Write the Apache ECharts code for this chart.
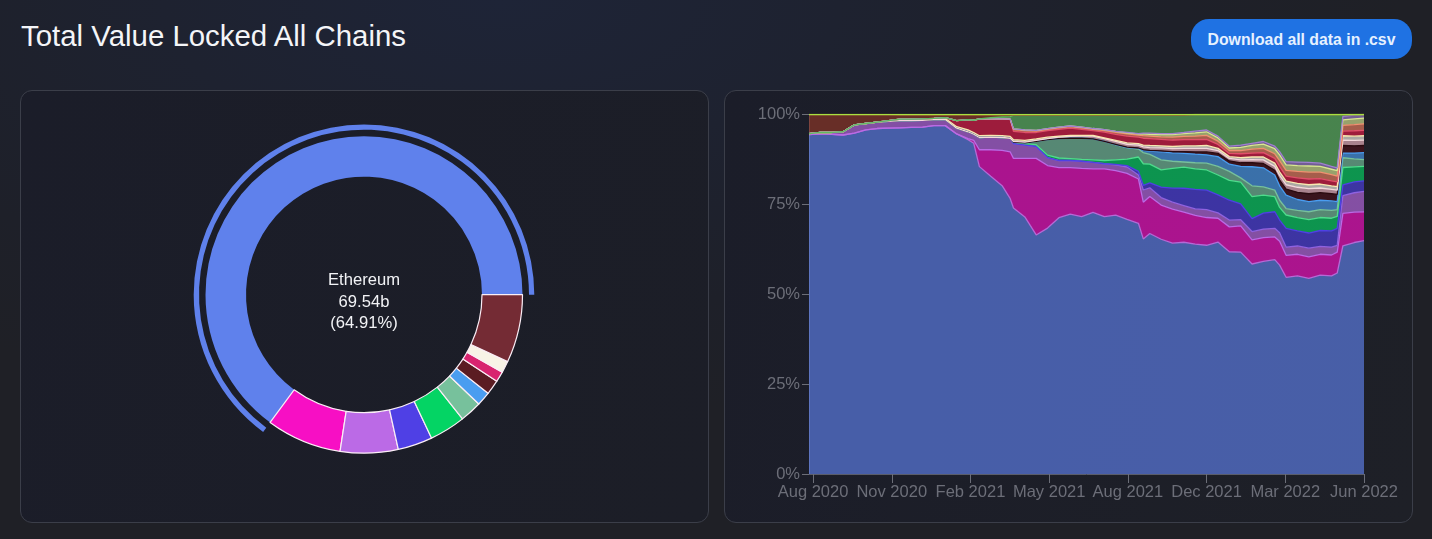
<!DOCTYPE html>
<html>
<head>
<meta charset="utf-8">
<title>Total Value Locked All Chains</title>
<script src="https://cdn.jsdelivr.net/npm/echarts@6/dist/echarts.min.js"></script>
<style>
  html, body { margin: 0; padding: 0; width: 1432px; height: 539px; overflow: hidden; }
  body {
    position: relative;
    font-family: "Liberation Sans", sans-serif;
    background: radial-gradient(ellipse 900px 420px at 35% 0%, #1e2437 0%, #1e2029 75%, #1f2026 100%);
  }
  h1 {
    position: absolute; left: 21px; top: 18px; margin: 0;
    font-size: 29.4px; line-height: 36px; font-weight: 400; color: #f4f5f8;
  }
  .download {
    position: absolute; left: 1191px; top: 19px; width: 221px; height: 40px; padding: 1px 0 0;
    border: 0; border-radius: 18px; background: #1f72e3; color: #e6f1ff;
    font: bold 15.8px "Liberation Sans", sans-serif;
  }
  .panel {
    position: absolute; top: 90px; width: 687px; height: 431px;
    border: 1px solid #3b3e49; border-radius: 12px;
    background: linear-gradient(110deg, #1b1d29 0%, #1c1e27 100%);
  }
  .panel.right { background: linear-gradient(100deg, #1b1d29 0%, #1e2027 100%); }
  #chart { position: absolute; left: 0; top: 0; width: 1432px; height: 539px; }
</style>
</head>
<body>
<h1>Total Value Locked All Chains</h1>
<button class="download">Download all data in .csv</button>
<div class="panel" style="left:20px"></div>
<div class="panel right" style="left:724px"></div>
<div id="chart"></div>
<script>
// donut, latest TVL in billions
const pieNames = ['Ethereum', 'Magenta', 'Purple', 'Indigo', 'Green', 'Mint', 'Blue', 'Dark', 'Pink', 'Cream', 'Maroon'];
const pieValues = [69.54, 8.22, 6.31, 3.78, 3.93, 2.38, 1.52, 1.61, 1.14, 1.27, 7.43];
const pieColors = ['#5f81ec', '#f70fc4', '#bb6ae6', '#4f40e5', '#04d464', '#77c19c', '#4a9df0', '#5b1c22', '#d8246f', '#f8f3e6', '#742b34'];

// dominance over time
const dates = [
  '2020-07-30','2020-08-13','2020-08-27','2020-09-10','2020-09-24','2020-10-08','2020-10-22','2020-11-05','2020-11-19','2020-12-03',
  '2020-12-17','2020-12-31','2021-01-14','2021-01-28','2021-02-11','2021-02-18','2021-02-25','2021-03-11','2021-03-25','2021-04-04',
  '2021-04-08','2021-04-22','2021-05-06','2021-05-20','2021-06-03','2021-06-17','2021-07-01','2021-07-15','2021-07-29','2021-08-12',
  '2021-08-26','2021-09-09','2021-09-15','2021-09-23','2021-10-07','2021-10-21','2021-11-04','2021-11-18','2021-12-02','2021-12-16',
  '2021-12-30','2022-01-13','2022-01-27','2022-02-10','2022-02-24','2022-03-02','2022-03-10','2022-03-24','2022-04-07','2022-04-21',
  '2022-05-05','2022-05-12','2022-05-19','2022-06-02','2022-06-14'
];
const ethereum = [94.4,94.6,94.5,94.3,94.8,95.7,96.1,96.2,96.3,96.4, 96.5,96.9,96.9,94.6,93.0,92.0,85.5,82.8,80.2,76.5, 74.0,71.5,66.5,68.4,71.3,72.3,71.6,72.8,71.6,72.0, 70.8,69.6,65.4,66.9,65.3,64.2,64.4,63.8,63.5,64.4, 61.7,61.6,58.3,59.0,59.5,58.0,54.6,55.0,54.3,55.2, 55.0,55.8,63.3,64.2,64.7];
const magenta = [0,0,0,0,0,0,0,0,0,0, 0,0,0,0,.3,.8,4.7,7.4,9.8,13, 13.8,16.3,21.3,17.4,13.9,12.9,13.4,12.1,13.3,12.4, 12.8,12.3,10.2,10.3,9.5,9.5,8.4,8,7.7,6.6, 6.9,7.3,6.7,6.6,6.3,6.6,6.1,6,6,5.8, 5.8,5.8,9,8.4,8];
const purple = [.3,.4,.5,.9,2.3,1.8,1.8,1.9,2,1.9, 1.9,1.7,1.7,1.6,1.9,1.7,3.4,3.5,3.6,3.8, 4.1,3.7,3.3,2.2,2,2,2,1.8,1.4,1.6, 1.8,1.1,3.4,2.4,2.1,1.9,1.8,1.8,2.2,1.5, 1.9,1.7,2.3,2.4,2.4,2.4,2.3,2.3,2.4,2.2, 2.2,1.9,4.9,5.4,5.7];
const indigo = [0,0,0,0,0,0,0,0,0,0, 0,0,0,0,0,0,0,0,0,0, 0,0,0,0,0,0,0,0,0,.1, .4,1,1.3,1.4,2.9,3.9,4.8,5.4,5.4,5, 5.5,4.4,3.6,4.4,4.6,3.5,5.2,4.2,4.2,4.4, 4.5,4.7,3,3,2.9];
const green = [0,0,0,0,0,0,0,0,0,0, 0,0,0,0,0,0,0,0,0,0, .4,.4,.5,.7,.7,.5,.5,.7,.9,1.3, 1.8,4,6,5.2,4.8,5.5,5.9,5.7,5.6,5.5, 5.5,6,6.1,5,4.2,3.5,3.7,3.7,3.7,3.6, 3.5,3.3,4.8,4.2,4];
const sage = [0,0,0,0,0,0,0,0,0,0, 0,0,0,0,0,0,0,0,0,0, 0,.2,.9,4.3,5.4,5.7,5.9,5.8,5.3,4.2, 3.2,2.2,3.1,2.7,2.8,2,1.4,1.7,1.9,2.4, 2.5,1.2,3,2.3,1.8,2,1.8,2,2.2,2.2, 2.2,1.9,2.7,2.2,1.9];
const steel = [0,0,0,0,0,0,0,0,0,0, 0,0,0,0,0,0,0,0,0,0, 0,0,0,0,0,0,0,0,0,0, 0,.2,.6,.9,2.2,2.3,2.4,2.4,2.3,2.7, 2,3.2,5.3,5.3,4.2,4,3.7,3,2.8,2.6, 2.6,2.2,1.3,1.6,1.9];
const dark = [0,0,0,0,0,0,0,0,0,0, 0,0,0,0,0,0,0,0,0,0, 0,0,0,0,0,0,0,0,0,.1, .1,.1,.2,.2,.3,.4,.5,.6,.8,.9, .9,1,1.1,1.2,1.3,1.6,1.7,2,2.2,2.1, 2,2,2.1,2,2];
const blush = [0,0,0,0,0,0,0,0,0,0, 0,0,0,0,0,0,0,0,0,0, .2,.2,.3,.3,.4,.5,.6,.8,.8,.8, .8,.8,.8,.8,.8,.8,.9,1,1,.8, .7,.8,.9,1,1.1,1.3,1.2,1.4,1.4,1.3, 1.2,1.2,1.5,1.5,1.5];
const cream = [0,0,0,0,0,0,0,.2,.4,.4, .4,.3,.3,.4,.5,.5,.5,.5,.5,.5, .5,.5,.4,.4,.3,.3,.2,.2,.2,.3, .4,.4,.5,.6,.6,.6,.7,.7,.8,.6, .5,.6,.7,.8,.9,1,1,1.1,1.1,1.1, 1,1,1.2,1.2,1.2];
const red = [0,0,0,0,0,0,0,0,0,0, 0,0,.2,1.7,2.9,3.4,4.7,4.6,4.7,4.8, 2.3,2.2,1.8,1.8,1.9,2,1.7,1.3,1.6,1.7, 1.9,1.8,1.9,1.9,1.8,1.8,1.7,1.7,1.7,1.1, .9,1.1,1.1,1.2,1.3,1.5,1.4,1.5,1.6,1.5, 1.4,1.3,1.3,1.5,1.5];
const salmon = [0,0,0,0,0,0,0,0,0,0, 0,0,0,0,0,0,0,0,0,0, .5,.5,.4,.4,.4,.4,.4,.4,.4,.5, .6,.6,.7,.7,.7,.8,.9,1,1.1,.9, .8,.9,1.1,1.2,1.3,1.6,1.6,1.8,1.9,1.8, 1.7,1.6,1.6,1.7,1.8];
const yellow = [0,0,0,0,0,0,0,0,0,0, 0,0,0,0,0,0,0,0,0,0, .2,.2,.2,.2,.2,.2,.2,.2,.3,.3, .3,.3,.5,.5,.6,.7,.8,.9,1,.9, .7,.9,1,1.2,1.4,1.6,1.5,1.6,1.7,1.6, 1.5,1.5,1.5,1.6,1.6];
const lilac = [0,0,0,0,0,0,0,0,0,0, 0,0,0,0,0,0,0,0,0,0, 0,0,0,0,0,0,0,0,0,0, .1,.1,.2,.3,.3,.3,.3,.5,.5,.5, .5,.6,.6,.7,.7,.9,.9,1,1,.9, .8,.8,1,1,1];
const bigGreen = [0,0,0,0,0,0,0,0,0,0, 0,0,0,0,0,0,0,.3,.5,.7, 3.8,4.1,4.2,3.7,3.3,3,3.3,3.7,4,4.5, 4.8,5.1,5,5,5.1,5.1,4.8,4.6,4.3,6, 8.8,8.5,8,7.5,8.8,10.3,13.1,13.2,13.3,13.5, 14.4,14.8,.5,.2,0];
const brown = [5.3,5,5,4.8,2.9,2.5,2.1,1.7,1.1,1.1, 1,.9,.7,1.5,1.2,1.4,1,.7,.5,.4, 0,0,0,0,0,0,0,0,0,0, 0,0,0,0,0,0,0,0,0,0, 0,0,0,0,0,0,0,0,0,0, 0,0,0,0,0];
const lime = [0,0,0,0,0,0,0,0,.2,.2, .2,.2,.2,.2,.2,.2,.2,.2,.2,.2, .2,.2,.2,.2,.2,.2,.2,.2,.2,.2, .2,.2,.2,.2,.2,.2,.2,0,0,0, 0,0,0,0,0,0,0,0,0,0, 0,0,0,0,0];

const tickDates = ['2020-08-04', '2020-11-09', '2021-02-14', '2021-05-22', '2021-08-27', '2021-12-02', '2022-03-09', '2022-06-14'];
const tickLabels = ['Aug 2020', 'Nov 2020', 'Feb 2021', 'May 2021', 'Aug 2021', 'Dec 2021', 'Mar 2022', 'Jun 2022'];

const bands = [
  { name: 'Ethereum', values: ethereum, color: '#5f81ec', line: '#b56ad6' },
  { name: 'Magenta', values: magenta, color: '#f70fc4', line: '#bb6ae6' },
  { name: 'Purple', values: purple, color: '#bb6ae6', line: '#8f62e0' },
  { name: 'Indigo', values: indigo, color: '#4f40e5', line: '#4f40e5' },
  { name: 'Green', values: green, color: '#04d464', line: '#4fdc8c' },
  { name: 'Sage', values: sage, color: '#77c19c', line: '#77c19c' },
  { name: 'Steel', values: steel, color: '#4a9df0', line: '#4a9df0' },
  { name: 'Dark', values: dark, color: '#4a0f18', line: '#2a0a10' },
  { name: 'Blush', values: blush, color: '#f4b8c4', line: '#f4d8dc' },
  { name: 'Cream', values: cream, color: '#f8f3e6', line: '#f8e8b0' },
  { name: 'Red', values: red, color: '#e41c46', line: '#e0506a' },
  { name: 'Salmon', values: salmon, color: '#f08060', line: '#f09070' },
  { name: 'Yellow', values: yellow, color: '#d8e890', line: '#d8e890' },
  { name: 'Lilac', values: lilac, color: '#a080d0', line: '#a080d0' },
  { name: 'Big green', values: bigGreen, color: '#60ba62', line: '#60ba62' },
  { name: 'Brown', values: brown, color: '#923826', line: '#923826' },
  { name: 'Lime', values: lime, color: '#a8e040', line: '#a8e040' }
];

// the original is a percent stack, so each date is scaled to 100
const totals = dates.map((d, i) => bands.reduce((sum, b) => sum + b.values[i], 0));
const toTime = (d) => +new Date(d);
const tickTimes = tickDates.map(toTime);
const pieTotal = pieValues.reduce((a, b) => a + b, 0);

const axisGray = '#6c6e78';
const chart = echarts.init(document.getElementById('chart'));

chart.setOption({
  animation: false,
  backgroundColor: 'transparent',
  textStyle: { fontFamily: '"Liberation Sans", sans-serif' },
  title: {
    text: pieNames[0] + '\n' + pieValues[0].toFixed(2) + 'b\n(' + (pieValues[0] / pieTotal * 100).toFixed(2) + '%)',
    left: 364,
    top: 270,
    padding: 0,
    textAlign: 'center',
    textStyle: { color: '#f2f3f6', fontSize: 16.6, fontWeight: 'normal', lineHeight: 21.5, fontFamily: '"Liberation Sans", sans-serif' }
  },
  grid: { left: 809, top: 114.5, width: 555, height: 359.5, containLabel: false },
  xAxis: [
    // time axis carries the stack, custom ticks don't work on it so the value axis below draws them
    { type: 'time', min: dates[0], max: dates[dates.length - 1], show: false },
    {
      type: 'value',
      position: 'bottom',
      min: toTime(dates[0]),
      max: toTime(dates[dates.length - 1]),
      axisLine: { show: true, lineStyle: { color: '#5a5d6a' } },
      splitLine: { show: false },
      axisTick: { show: true, length: 9, lineStyle: { color: '#6c6e78' }, customValues: tickTimes },
      axisLabel: {
        color: axisGray,
        fontSize: 16.5,
        margin: 10,
        hideOverlap: false,
        customValues: tickTimes,
        formatter: (v) => tickLabels[tickTimes.indexOf(v)]
      }
    }
  ],
  yAxis: {
    type: 'value',
    min: 0,
    max: 100,
    interval: 25,
    axisLine: { show: true, lineStyle: { color: '#5a5d6a' } },
    axisTick: { show: true, length: 7, lineStyle: { color: '#6c6e78' } },
    splitLine: { show: false },
    axisLabel: { color: axisGray, fontSize: 16.5, margin: 9, padding: [3, 0, 0, 0], formatter: '{value}%' }
  },
  series: [
    ...bands.map((b) => ({
      name: b.name,
      type: 'line',
      stack: 'share',
      xAxisIndex: 0,
      showSymbol: false,
      silent: true,
      sampling: 'none',
      lineStyle: { color: b.line, width: 1.3 },
      itemStyle: { color: b.color },
      areaStyle: { color: b.color, opacity: 0.65 },
      data: dates.map((d, i) => [d, b.values[i] / totals[i] * 100])
    })),
    {
      type: 'pie',
      center: [364, 294.7],
      radius: [118, 158.5],
      startAngle: 0,
      clockwise: false,
      silent: true,
      labelLine: { show: false },
      label: { show: false },
      data: pieNames.map((name, i) => ({
        name,
        value: pieValues[i],
        itemStyle: i === 0
          ? { color: pieColors[i] }
          : { color: pieColors[i], borderColor: '#fbeef6', borderWidth: 1.2 }
      }))
    },
    {
      // outer ring marking the selected slice
      type: 'pie',
      center: [364, 294.7],
      radius: [165, 170.3],
      startAngle: 0,
      clockwise: false,
      silent: true,
      label: { show: false },
      labelLine: { show: false },
      data: [
        { value: pieValues[0], itemStyle: { color: pieColors[0] } },
        { value: pieTotal - pieValues[0], itemStyle: { color: 'transparent' } }
      ]
    }
  ]
});
</script>
</body>
</html>
